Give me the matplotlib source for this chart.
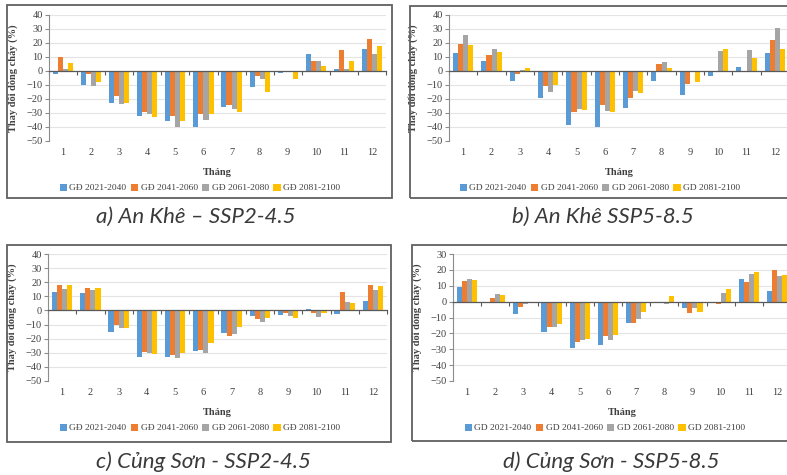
import matplotlib
matplotlib.use('Agg')
import matplotlib.pyplot as plt
from matplotlib.patches import Rectangle, Patch
import numpy as np

months = [str(i) for i in range(1, 13)]
periods_vn = ['GĐ 2021-2040', 'GĐ 2041-2060', 'GĐ 2061-2080', 'GĐ 2081-2100']
periods_en = ['GD 2021-2040', 'GD 2041-2060', 'GD 2061-2080', 'GD 2081-2100']
colors = ['#5B9BD5', '#ED7D31', '#A5A5A5', '#FFC000']

# a) An Khe SSP2-4.5
ak245_2021 = [-2.4, -10.2, -22.9, -32.0, -35.5, -40.2, -25.7, -11.2, -1.4, 12.4, 1.2, 16.0]
ak245_2041 = [10.0, -2.4, -18.0, -29.3, -32.0, -30.5, -24.5, -3.3, -0.7, 7.4, 15.0, 22.6]
ak245_2061 = [1.4, -11.0, -23.3, -30.5, -39.8, -35.2, -27.0, -5.5, -1.0, 6.9, 1.2, 12.4]
ak245_2081 = [5.7, -7.9, -22.9, -32.9, -35.7, -30.5, -29.3, -15.0, -5.7, 3.6, 7.1, 18.1]

# b) An Khe SSP5-8.5
ak585_2021 = [12.9, 7.1, -7.1, -19.0, -38.6, -39.8, -26.4, -6.9, -17.4, -3.3, 2.6, 13.1]
ak585_2041 = [19.5, 11.4, -1.9, -10.7, -29.5, -24.0, -19.5, 5.0, -9.0, -0.2, -0.7, 22.1]
ak585_2061 = [26.0, 16.0, 0.7, -15.0, -27.4, -28.6, -14.5, 6.2, -0.5, 14.0, 15.2, 30.7]
ak585_2081 = [18.3, 13.6, 2.1, -10.2, -27.9, -29.5, -16.0, 2.1, -8.1, 15.5, 9.0, 16.0]

# c) Cung Son SSP2-4.5
cs245_2021 = [13.0, 12.5, -15.4, -33.3, -32.9, -28.8, -16.3, -4.0, -3.0, 0.9, -2.6, 6.9]
cs245_2041 = [18.0, 16.1, -10.6, -29.3, -31.7, -28.1, -18.2, -5.9, -1.9, -2.1, 13.0, 18.2]
cs245_2061 = [14.9, 14.4, -12.5, -30.5, -33.6, -30.3, -17.0, -8.3, -3.8, -4.7, 5.9, 14.4]
cs245_2081 = [17.7, 15.6, -12.5, -31.2, -30.3, -22.9, -12.0, -5.2, -5.0, -2.1, 5.0, 17.3]

# d) Cung Son SSP5-8.5
cs585_2021 = [9.0, -0.4, -7.5, -19.0, -29.5, -27.6, -13.4, -0.4, -4.0, -1.0, 14.0, 6.9]
cs585_2041 = [13.0, 2.5, -3.6, -15.9, -25.7, -21.5, -13.4, -0.8, -7.1, -1.5, 12.6, 19.9]
cs585_2061 = [14.4, 4.6, -1.7, -15.9, -24.3, -24.3, -10.9, -1.5, -4.0, 5.6, 17.4, 16.0]
cs585_2081 = [13.4, 4.0, -1.0, -14.4, -23.4, -21.1, -6.5, 3.8, -6.7, 7.7, 18.8, 16.5]

captions = ['a) An Khê – SSP2-4.5', 'b) An Khê SSP5-8.5',
            'c) Củng Sơn - SSP2-4.5', 'd) Củng Sơn - SSP5-8.5']

W, H = 787, 475
fig = plt.figure(figsize=(W / 100, H / 100), dpi=100)
fig.patch.set_facecolor('white')

serif = ['Liberation Serif', 'DejaVu Serif']

panels = [
    dict(series=[ak245_2021, ak245_2041, ak245_2061, ak245_2081], labels=periods_vn,
         ax=(49, 15, 386, 141), ylim=(-50, 40), frame=(7, 5, 392, 198),
         cap=(196, 217, captions[0]), leg=(200, 188)),
    dict(series=[ak585_2021, ak585_2041, ak585_2061, ak585_2081], labels=periods_en,
         ax=(449, 15, 789, 141), ylim=(-50, 40), frame=(410, 6, 805, 198),
         cap=(603, 217, captions[1]), leg=(600, 188)),
    dict(series=[cs245_2021, cs245_2041, cs245_2061, cs245_2081], labels=periods_vn,
         ax=(48, 254, 387, 381), ylim=(-50, 40), frame=(7, 245, 391, 442),
         cap=(203, 462, captions[2]), leg=(200, 428)),
    dict(series=[cs585_2021, cs585_2041, cs585_2061, cs585_2081], labels=periods_en,
         ax=(453, 254, 791, 381), ylim=(-50, 30), frame=(412, 245, 805, 441),
         cap=(611, 462, captions[3]), leg=(605, 428)),
]

x = np.arange(1, 13)
w = 0.18
for p in panels:
    l, t, r, b = p['ax']
    ax = fig.add_axes([l / W, 1 - b / H, (r - l) / W, (b - t) / H])
    ax.set_facecolor('none')
    for i, (vals, c) in enumerate(zip(p['series'], colors)):
        ax.bar(x + (i - 1.5) * w, vals, width=w, color=c, label=p['labels'][i], zorder=3)
    ax.set_xlim(0.5, 12.5)
    ax.set_ylim(*p['ylim'])
    ax.set_yticks(np.arange(p['ylim'][0], p['ylim'][1] + 1, 10))
    ax.yaxis.grid(True, color='#e4e4e4', lw=0.8, zorder=0)
    ax.set_axisbelow(True)
    for s in ['top', 'right']:
        ax.spines[s].set_visible(False)
    ax.spines['left'].set_color('#8c8c8c')
    ax.spines['left'].set_linewidth(0.8)
    ax.spines['bottom'].set_position(('data', 0))
    ax.spines['bottom'].set_color('#595959')
    ax.spines['bottom'].set_linewidth(0.9)
    ax.spines['bottom'].set_zorder(4)
    ax.set_xticks(np.arange(0.5, 13, 1))
    ax.tick_params(axis='x', length=3, width=0.8, color='#595959', labelbottom=False)
    ax.tick_params(axis='y', length=3, width=0.8, color='#8c8c8c', labelsize=7.5,
                   pad=1.5, labelcolor='#404040')
    for lab in ax.get_yticklabels():
        lab.set_family(serif)
    ax.set_ylabel('Thay đổi dòng chảy (%)', family=serif, fontsize=7.5,
                  fontweight='bold', color='#404040', labelpad=6)

    sec = ax.secondary_xaxis('bottom')
    sec.set_xticks(x)
    sec.set_xticklabels(months, family=serif, fontsize=7.5, color='#404040')
    sec.tick_params(length=0, pad=5)
    sec.spines['bottom'].set_visible(False)
    sec.set_xlabel('Tháng', family=serif, fontsize=7.5, fontweight='bold',
                   color='#404040', labelpad=8)

    handles = [Patch(facecolor=c, edgecolor='none') for c in colors]
    lx, ly = p['leg']
    ax.legend(handles, p['labels'], loc='center', bbox_to_anchor=(lx / W, 1 - ly / H),
              bbox_transform=fig.transFigure, ncol=4, frameon=False,
              prop=dict(family=serif, size=6.8), handlelength=0.75, handleheight=0.75,
              handletextpad=0.3, columnspacing=0.45, labelcolor='#404040')

    fl, ft, fr, fb = p['frame']
    fig.add_artist(Rectangle((fl / W, 1 - fb / H), (fr - fl) / W, (fb - ft) / H,
                             transform=fig.transFigure, fill=False, ec='#606060',
                             lw=1.3, clip_on=False))
    cx, cy, txt = p['cap']
    fig.text(cx / W, 1 - cy / H, txt, ha='center', va='center', fontsize=16,
             style='italic', family=['Lato', 'DejaVu Sans'], color='#3a3a3a')

fig.savefig('out.png', dpi=100, facecolor='white')
